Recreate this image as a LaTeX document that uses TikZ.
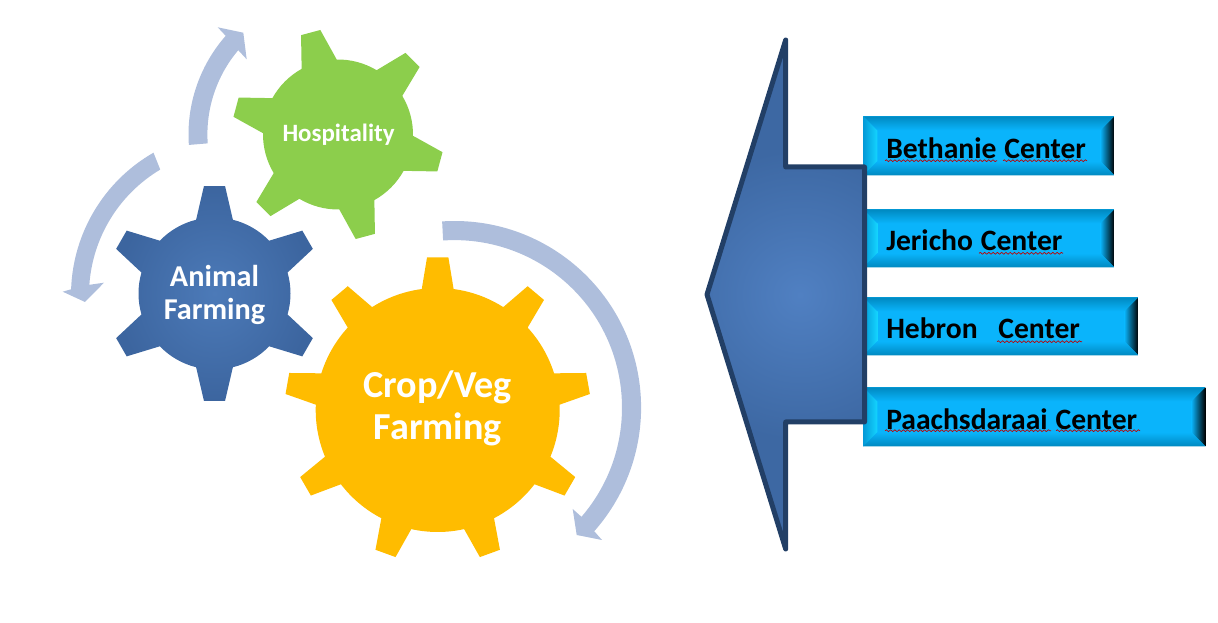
\documentclass[tikz,border=0pt]{standalone}
\usepackage{fontspec}
\setmainfont{Carlito}
\usetikzlibrary{calc}
\usetikzlibrary{decorations.pathmorphing}
\def\px{0.75pt}
\newcommand{\boxspace}{\spaceskip 6pt\relax}
\definecolor{flowblue}{HTML}{AEBEDC}
\definecolor{gearblueA}{HTML}{4C7AB8}
\definecolor{gearblueB}{HTML}{3C659F}
\definecolor{geargreen}{HTML}{8CCE4C}
\definecolor{gearorange}{HTML}{FFBC00}
\definecolor{bigarrowA}{HTML}{5080C2}
\definecolor{bigarrowB}{HTML}{3D68A3}
\definecolor{bigarrowline}{HTML}{223F66}
\definecolor{boxblue}{HTML}{0AB4FB}
\definecolor{boxedge}{HTML}{0089C0}
\definecolor{boxglow}{HTML}{14D4FF}
\definecolor{boxdeep}{HTML}{05506F}
\pgfdeclareradialshading{arrowglow}{\pgfpoint{0bp}{0bp}}{color(0bp)=(bigarrowA); color(12.5bp)=(bigarrowB); color(50bp)=(bigarrowB)}
\tikzset{
	bevelbox/.style 2 args={rectangle,anchor=north west,fill=boxblue,inner ysep=0pt,inner xsep=23*\px,
		minimum width=#1*\px,minimum height=#2*\px,text width=(#1-46)*\px,text height=31*\px,text depth=5.6*\px,
		font=\fontsize{22.2pt}{26pt}\selectfont\bfseries,align=left,execute at begin node=\boxspace,
		path picture={
			\coordinate (nw) at (path picture bounding box.north west);
			\coordinate (ne) at (path picture bounding box.north east);
			\coordinate (sw) at (path picture bounding box.south west);
			\coordinate (se) at (path picture bounding box.south east);
			\shade[left color=boxedge!60!boxblue,right color=boxglow] (nw) -- ($(nw)+(14,-14)$) -- ($(sw)+(14,14)$) -- (sw) -- cycle;
			\shade[left color=boxblue,middle color=boxdeep,right color=black] ($(ne)+(-14,-14)$) -- (ne) -- (se) -- ($(se)+(-14,14)$) -- cycle;
			\shade[top color=boxedge,middle color=boxglow,bottom color=boxblue] (nw) -- (ne) -- ($(ne)+(-14,-14)$) -- ($(nw)+(14,-14)$) -- cycle;
			\shade[top color=boxblue,middle color=boxdeep,bottom color=boxedge] ($(sw)+(14,14)$) -- ($(se)+(-14,14)$) -- (se) -- (sw) -- cycle;
		}},
	gearlabel/.style={text=white,font=\bfseries,align=center,inner sep=0pt},
	squiggle/.style={draw=red!75!black,line width=0.5pt,decorate,decoration={snake,amplitude=0.7pt,segment length=3.2pt}}
}
% look, centre, body radius, tip radius, teeth, first tooth, half angle at body, half angle at tip
\newcommand{\gearshape}[8]{
	\path[#1,shift={(#2)}] (#6-#7:#3)
		\foreach \t [evaluate=\t as \a using #6+(\t-1)*360/#5] in {1,...,#5}
			{ -- (\a-#8:#4) -- (\a+#8:#4) -- (\a+#7:#3) arc [start angle=\a+#7,end angle=\a+360/#5-#7,radius=#3] }
		-- cycle;
}
\begin{document}
\begin{tikzpicture}[x=\px,y=\px]
\tikzstyle{flowarrow}=[fill=flowblue]
\useasboundingbox (0,0) rectangle (1218,-623);
\coordinate	(hospC)		at (338,-134.5);
\coordinate	(animalC)	at (214.5,-293.5);
\coordinate	(cropC)		at (437.7,-410);
\coordinate	(flowA)		at (235,-295);
\coordinate	(flowB)		at (338,-134.5);
\coordinate	(flowC)		at (454.5,-407.6);
% gears
\gearshape{fill=geargreen}{hospC}{75}{106}{6}{-15}{14}{5.4}
\gearshape{shade,inner color=gearblueA,outer color=gearblueB}{animalC}{76}{108}{6}{30}{14}{5.6}
\gearshape{fill=gearorange}{cropC}{122}{153}{9}{10}{7.5}{4}
\node[gearlabel,font=\fontsize{18.7pt}{22pt}\selectfont\bfseries]	(hosp)		at (338.5,-135)		{Hospitality};
\node[gearlabel,font=\fontsize{22.7pt}{24.7pt}\selectfont\bfseries]	(animal)	at (214.5,-295)		{Animal\\Farming};
\node[gearlabel,font=\fontsize{28.6pt}{32pt}\selectfont\bfseries]	(crop)		at (437.7,-408.5)	{Crop/Veg\\Farming};
% circular arrows
\path[flowarrow] (flowA) ++(119.8:164) arc [start angle=119.8,end angle=178,radius=164]
	-- (62.7,-291.7) -- (85,-302) -- (104,-282.7) -- ($(flowA)+(176:146)$)
	arc [start angle=176,end angle=120.8,radius=146] -- cycle;
\path[flowarrow] (flowB) ++(184:149.5) arc [start angle=184,end angle=138.7,radius=149.5]
	-- (217.7,-27.3) -- (243.3,-32.7) -- (246.7,-59.3) -- ($(flowB)+(139.8:130.6)$)
	arc [start angle=139.8,end angle=183.9,radius=130.6] -- cycle;
\path[flowarrow] (flowC) ++(93.8:186.6) arc [start angle=93.8,end angle=-41.5,radius=186.6]
	-- (602,-540) -- (576.7,-535) -- (572.7,-509) -- ($(flowC)+(-40.7:167.5)$)
	arc [start angle=-40.7,end angle=93.9,radius=167.5] -- cycle;
% centers
\node[bevelbox={251}{59}]	(bethanie)	at (863,-116)	{Bethanie Center};
\node[bevelbox={251}{58}]	(jericho)	at (863,-209)	{Jericho Center};
\node[bevelbox={275}{58}]	(hebron)	at (863,-297)	{Hebron\hspace{0.7em}Center};
\node[bevelbox={342}{59}]	(paachs)	at (863,-387)	{Paachsdaraai Center};
\draw[squiggle] (885,-160.7) -- (997,-160.7);
\draw[squiggle] (1003,-160.7) -- (1087,-160.7);
\draw[squiggle] (979,-253.3) -- (1063,-253.3);
\draw[squiggle] (997,-341.7) -- (1082,-341.7);
\draw[squiggle] (885,-430.7) -- (1051,-430.7);
\draw[squiggle] (1056,-430.7) -- (1140,-430.7);
% big arrow
\path[fill=bigarrowB,draw=bigarrowline,line width=5*\px,line join=round,
	path picture={\shade[shading=arrowglow] (800,-295) circle (290);}]
	(785.7,-40) -- (785.7,-167) -- (864.5,-167) -- (864.5,-422) -- (785.7,-422) -- (785.7,-549) -- (707,-294.5) -- cycle;
\end{tikzpicture}
\end{document}
